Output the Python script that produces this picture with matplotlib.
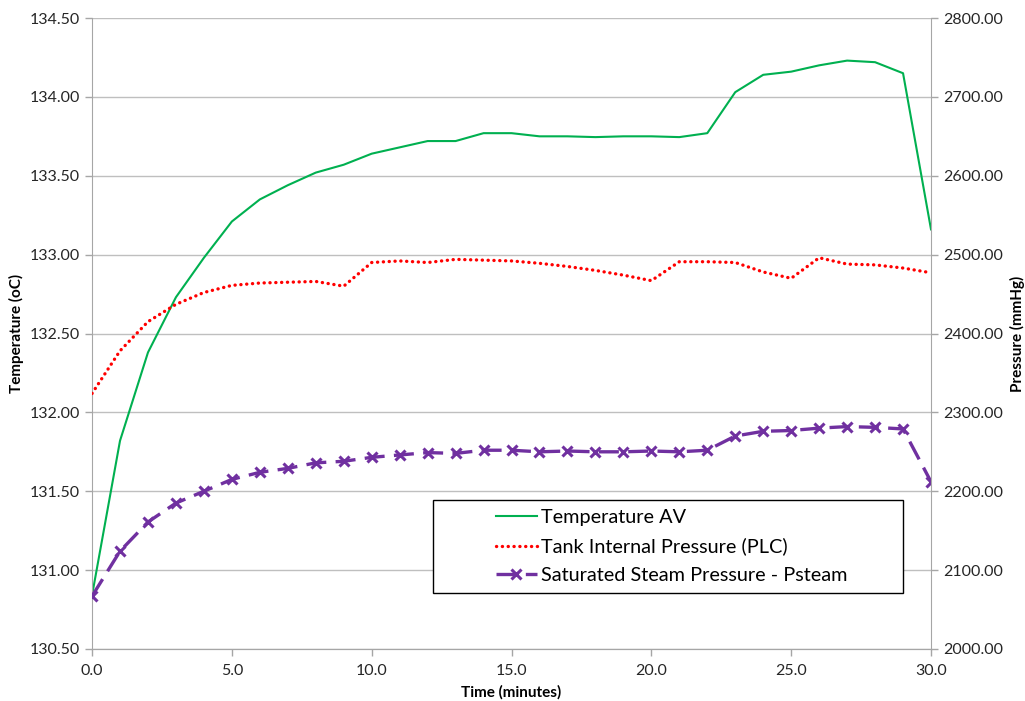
import numpy as np
import matplotlib
matplotlib.use("Agg")
import matplotlib.pyplot as plt
from matplotlib.patches import Rectangle

plt.rcParams['font.family'] = ['Lato', 'DejaVu Sans']

### Data (one reading per minute)
minutes = list(range(0, 31))

temperature_av = [130.84, 131.82, 132.38, 132.73, 132.98, 133.21, 133.35, 133.44,
                  133.52, 133.57, 133.64, 133.68, 133.72, 133.72, 133.77, 133.77,
                  133.75, 133.75, 133.745, 133.75, 133.75, 133.745, 133.77, 134.03,
                  134.14, 134.16, 134.20, 134.23, 134.22, 134.15, 133.16]

tank_pressure = [2324, 2378, 2415, 2437, 2452, 2461, 2464, 2465, 2466, 2460, 2490,
                 2492, 2490, 2494, 2493, 2492, 2489, 2485, 2480, 2474, 2467, 2491,
                 2491, 2490, 2478, 2470, 2496, 2488, 2487, 2483, 2477]

steam_pressure = [2067, 2124, 2161, 2185, 2200, 2215, 2224, 2229, 2236, 2238, 2243,
                  2246, 2249, 2248, 2252, 2252, 2250, 2251, 2250, 2250, 2251, 2250,
                  2252, 2270, 2276, 2277, 2280, 2282, 2281, 2279, 2212]

labels = ['Temperature AV', 'Tank Internal Pressure (PLC)', 'Saturated Steam Pressure - Psteam']

x_ticks = np.arange(0, 31, 5)
temp_ticks = np.arange(130.5, 134.51, 0.5)
press_ticks = np.arange(2000, 2801, 100)

### Figure
fig = plt.figure(figsize=(10.25, 7.01), dpi=100)
ax = fig.add_axes([0.0898, 0.0742, 0.8185, 0.9001])
ax2 = ax.twinx()

grey = '#A6A6A6'
text_col = '#262626'

### Lines
l1, = ax.plot(minutes, temperature_av, color='#00B050', lw=1.5)
l2, = ax2.plot(minutes, tank_pressure, color='#FF0000', lw=2.4, linestyle=(0, (0.05, 1.7)),
               dash_capstyle='round')
l3, = ax2.plot(minutes, steam_pressure, color='#7030A0', lw=2.4, linestyle=(0, (6, 2.8)),
               marker='x', markersize=7, markeredgewidth=2.2)

### Axes styling
ax.set_xlim(0, 30)
ax.set_ylim(130.5, 134.5)
ax2.set_ylim(2000, 2800)
ax.set_xticks(x_ticks)
ax.set_xticklabels([f'{v:.1f}' for v in x_ticks])
ax.set_yticks(temp_ticks)
ax.set_yticklabels([f'{v:.2f}' for v in temp_ticks])
ax2.set_yticks(press_ticks)
ax2.set_yticklabels([f'{v:.2f}' for v in press_ticks])

ax.grid(axis='y', color='#BFBFBF', lw=1)
ax.set_axisbelow(True)

for a in (ax, ax2):
    a.spines['top'].set_visible(False)
    for s in ('left', 'right', 'bottom'):
        a.spines[s].set_color(grey)
    a.tick_params(colors=grey, labelcolor=text_col, labelsize=11.5, length=5, width=1)
ax.spines['right'].set_visible(False)
ax2.spines['left'].set_visible(False)
ax.tick_params(axis='x', pad=6)

ax.set_xlabel('Time (minutes)', fontsize=11, fontweight='bold', color='black', labelpad=5)
ax.set_ylabel('Temperature (oC)', fontsize=11, fontweight='bold', color='black', labelpad=4)
ax2.set_ylabel('Pressure (mmHg)', fontsize=11, fontweight='bold', color='black',
               rotation=90, labelpad=5)

### Legend with Excel-style box
box = Rectangle((0.4064, 0.0887), 0.5602, 0.1474, transform=ax2.transAxes,
                facecolor='white', edgecolor='black', lw=1, zorder=10)
ax2.add_patch(box)
leg = ax2.legend([l1, l2, l3], labels, loc='center left', bbox_to_anchor=(0.4715, 0.1624),
                 frameon=False, fontsize=14.3, handlelength=2.1, handletextpad=0.2,
                 labelspacing=0.6, borderaxespad=0)
leg.set_zorder(11)
for t in leg.get_texts():
    t.set_color('black')

fig.savefig('out.png', dpi=100)
